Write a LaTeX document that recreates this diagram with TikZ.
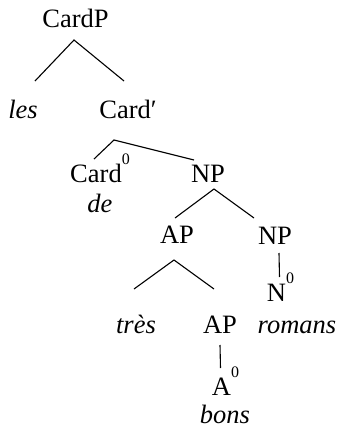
\documentclass[tikz,border=0pt]{standalone}
\usepackage{fontspec}
\setmainfont{Liberation Serif}
\newfontfamily\treefont{Liberation Serif}
\usetikzlibrary{calc}
% raised zero for bar level 0
\newcommand\supzero{\raisebox{17.5pt}{\fontsize{16}{16}\selectfont 0}}
\tikzset{
	cat/.style={anchor=base, inner sep=0pt, font=\treefont\fontsize{26.5}{30}\selectfont},
	word/.style={cat, font=\treefont\fontsize{26.5}{30}\selectfont\itshape},
	branch/.style={line width=1.1pt}
}

\begin{document}
\begin{tikzpicture}[x=1pt, y=-1pt]
		\useasboundingbox (0, 0) rectangle (341, 429);
		
		%%%%% labels %%%%%
		\node[cat] (cardp) at (75.5, 27) {CardP};
		\node[word] (les) at (23, 118) {les};
		\node[cat] (cardbar) at (128, 118) {Card′};
		\node[cat] (cardzero) at (100, 182) {Card\supzero};
		\node[word] (de) at (100, 212) {de};
		\node[cat] (np) at (208, 182) {NP};
		\node[cat] (ap) at (177, 243) {AP};
		\node[cat] (npr) at (275, 244) {NP};
		\node[cat] (nzero) at (280.5, 301) {N\supzero};
		\node[word] (tres) at (136, 333) {très};
		\node[cat] (aplow) at (220, 333) {AP};
		\node[word] (romans) at (297, 333) {romans};
		\node[cat] (azero) at (225.5, 395) {A\supzero};
		\node[word] (bons) at (225, 423.5) {bons};
		
		%%%%% branches %%%%%
		\draw[branch] ($(les.base)+(12, -37)$) -- ($(cardp.base)+(-1.5, 13)$) -- ($(cardbar.base)+(-4, -37)$);
		\draw[branch] ($(cardzero.base)+(-6, -23)$) -- ($(cardbar.base)+(-14, 22)$) -- ($(np.base)+(-14, -22)$);
		\draw[branch] ($(ap.base)+(-2, -25)$) -- ($(np.base)+(6, 7)$) -- ($(npr.base)+(-21, -26)$);
		\draw[branch] ($(tres.base)+(-2, -44)$) -- ($(ap.base)+(-3, 17)$) -- ($(aplow.base)+(-6, -44)$);
		\draw[branch] ($(npr.base)+(4, 9)$) -- ($(nzero.base)+(-1, -24)$);
		\draw[branch] ($(aplow.base)+(0, 12)$) -- ($(azero.base)+(-5, -27)$);
		
	\end{tikzpicture}
\end{document}
